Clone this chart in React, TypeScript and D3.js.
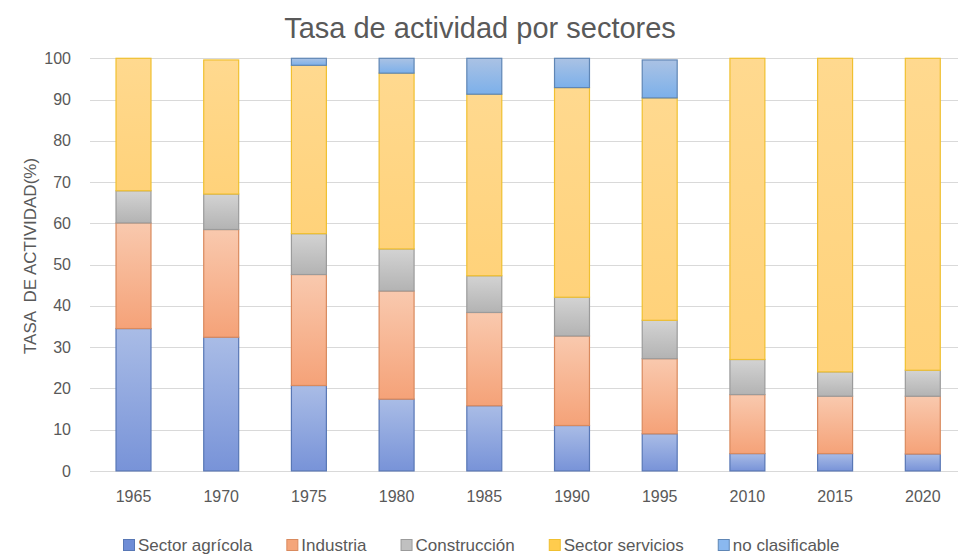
import React, { useEffect, useRef } from "react";
import * as d3 from "d3";

const years = ["1965", "1970", "1975", "1980", "1985", "1990", "1995", "2010", "2015", "2020"];
const agricola = [34.5, 32.4, 20.7, 17.4, 15.8, 11.0, 9.0, 4.2, 4.2, 4.1];
const industria = [25.6, 26.1, 26.9, 26.2, 22.6, 21.7, 18.2, 14.3, 13.9, 14.0];
const construccion = [7.8, 8.6, 9.9, 10.2, 8.9, 9.4, 9.3, 8.5, 5.9, 6.3];
const servicios = [32.1, 32.5, 40.8, 42.6, 44.0, 50.8, 53.9, 73.0, 76.0, 75.6];
const noClasificable = [0, 0, 1.7, 3.6, 8.7, 7.1, 9.2, 0, 0, 0];
const seriesNames = ["Sector agrícola", "Industria", "Construcción", "Sector servicios", "no clasificable"];
const yTicks = [0, 10, 20, 30, 40, 50, 60, 70, 80, 90, 100];

const styles = [
  { top: "#a9bce6", bottom: "#7893d8", stroke: "#5877b5", legend: "#6f8dd6" },
  { top: "#f9c9ae", bottom: "#f5a278", stroke: "#d98a5e", legend: "#f4a57a" },
  { top: "#d3d3d3", bottom: "#b3b3b3", stroke: "#9b9b9b", legend: "#c0c0c0" },
  { top: "#ffd98f", bottom: "#ffd27a", stroke: "#f0c030", legend: "#ffcc4d" },
  { top: "#aac2e4", bottom: "#7cb0ea", stroke: "#5f86b5", legend: "#8ab8ef" },
];

const W = 958;
const H = 556;
const FONT = "'Liberation Sans', Arial, sans-serif";
const TEXT = "#595959";

export default function App() {
  const ref = useRef<SVGSVGElement>(null);

  useEffect(() => {
    const svg = d3.select(ref.current);
    svg.selectAll("*").remove();

    const seriesValues = [agricola, industria, construccion, servicios, noClasificable];
    const table = years.map((y, i) => {
      const row: any = { year: y };
      seriesNames.forEach((n, k) => (row[n] = seriesValues[k][i]));
      return row;
    });
    const stacked = d3.stack().keys(seriesNames)(table);

    const step = 87.7;
    const left = 89.65;
    const x = d3
      .scaleBand()
      .domain(years)
      .range([left, left + step * years.length])
      .paddingInner(0.59)
      .paddingOuter(0.295);
    const y = d3.scaleLinear().domain([0, 100]).range([470.9, 58.3]);

    const defs = svg.append("defs");
    styles.forEach((s, k) => {
      const g = defs
        .append("linearGradient")
        .attr("id", "grad" + k)
        .attr("x1", 0)
        .attr("y1", 0)
        .attr("x2", 0)
        .attr("y2", 1);
      g.append("stop").attr("offset", "0%").attr("stop-color", s.top);
      g.append("stop").attr("offset", "100%").attr("stop-color", s.bottom);
    });

    // title
    svg
      .append("text")
      .attr("x", 480)
      .attr("y", 38)
      .attr("text-anchor", "middle")
      .attr("font-family", FONT)
      .attr("font-size", 29)
      .attr("fill", TEXT)
      .text("Tasa de actividad por sectores");

    // gridlines
    svg
      .append("g")
      .selectAll("line")
      .data(yTicks)
      .join("line")
      .attr("x1", 90)
      .attr("x2", W)
      .attr("y1", (d) => Math.round(y(d)) + 0.5)
      .attr("y2", (d) => Math.round(y(d)) + 0.5)
      .attr("stroke", "#d9d9d9")
      .attr("stroke-width", 1);

    // y tick labels
    svg
      .append("g")
      .selectAll("text")
      .data(yTicks)
      .join("text")
      .attr("x", 71)
      .attr("y", (d) => y(d))
      .attr("dy", "0.35em")
      .attr("text-anchor", "end")
      .attr("font-family", FONT)
      .attr("font-size", 16)
      .attr("fill", TEXT)
      .text((d) => String(d));

    // y axis title
    svg
      .append("text")
      .attr("transform", `translate(30,256) rotate(-90)`)
      .attr("text-anchor", "middle")
      .attr("dy", "0.35em")
      .attr("font-family", FONT)
      .attr("font-size", 17)
      .attr("fill", TEXT)
      .style("white-space", "pre")
      .text("TASA  DE ACTIVIDAD(%)");

    // bars
    stacked.forEach((layer, k) => {
      svg
        .append("g")
        .selectAll("rect")
        .data(layer.filter((d) => d[1] - d[0] > 0))
        .join("rect")
        .attr("x", (d: any) => (x(d.data.year) as number) + 0.5)
        .attr("y", (d) => y(d[1]))
        .attr("width", x.bandwidth() - 1)
        .attr("height", (d) => y(d[0]) - y(d[1]))
        .attr("fill", `url(#grad${k})`)
        .attr("stroke", styles[k].stroke)
        .attr("stroke-width", 1.2);
    });

    // x labels
    svg
      .append("g")
      .selectAll("text")
      .data(years)
      .join("text")
      .attr("x", (d) => (x(d) as number) + x.bandwidth() / 2)
      .attr("y", 502)
      .attr("text-anchor", "middle")
      .attr("font-family", FONT)
      .attr("font-size", 16)
      .attr("fill", TEXT)
      .text((d) => d);

    // legend
    const legend = svg.append("g");
    let cx = 123;
    seriesNames.forEach((name, k) => {
      const item = legend.append("g").attr("transform", `translate(${cx},0)`);
      item
        .append("rect")
        .attr("x", 0.5)
        .attr("y", 539.5)
        .attr("width", 11)
        .attr("height", 11)
        .attr("fill", styles[k].legend)
        .attr("stroke", styles[k].stroke)
        .attr("stroke-width", 1);
      const t = item
        .append("text")
        .attr("x", 15)
        .attr("y", 551)
        .attr("font-family", FONT)
        .attr("font-size", 17)
        .attr("fill", TEXT)
        .text(name);
      const w = (t.node() as SVGTextElement).getComputedTextLength();
      cx += 15 + w + 34;
    });
  }, []);

  return (
    <svg
      ref={ref}
      width={W}
      height={H}
      style={{ position: "absolute", left: 0, top: 0, background: "#fff" }}
    />
  );
}
